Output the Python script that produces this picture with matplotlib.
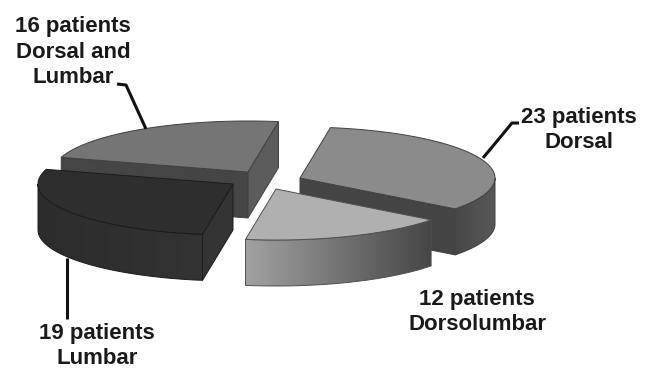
#draws an exploded 3d style pie of patient counts by site
import numpy as np
import matplotlib
matplotlib.use('Agg')
import matplotlib.pyplot as plt
from matplotlib.colors import to_rgb
from matplotlib.patches import Polygon

plt.rcParams['font.family'] = ['Liberation Sans', 'DejaVu Sans']

# patient counts, going clockwise from the back of the pie
sites = ["Dorsal", "Dorsolumbar", "Lumbar", "Dorsal and\nLumbar"]
patients = [23, 12, 19, 16]

# where each slice tip sits once pulled out of the pie
tips = [(300, 178), (276, 189), (233, 184), (248, 172)]
top_colors = ['#8b8b8b', '#b0b0b0', '#2e2e2e', '#757575']
edge_colors = ['#404040', '#505050', '#1c1c1c', '#404040']
# flat cut faces on the first and last edge of a slice, None when turned away
first_cut = [None, None, '#343434', '#454545']
last_cut = ['#444444', None, None, '#5c5c5c']
wall_left = ['#484848', '#a2a2a2', '#2c2c2c', None]
wall_right = ['#585858', '#464646', '#333333', None]
# drawing order, back slice first
layers = [2, 4, 3, 1]

label_pos = [(579, 130), (477, 312), (97, 346), (73, 52)]
leaders = [[(483, 158), (512, 123), (519, 123)], None,
           [(66.5, 258), (66.5, 319)], [(146, 129), (126, 85), (117, 84)]]

rx, ry = 195, 51
depth = 46
start_angle = 81

fig = plt.figure(figsize=(6.5, 3.68), dpi=100)
ax = fig.add_axes([0, 0, 1, 1])


def rim(tip, t):
    # point on the pie edge for an angle in degrees
    r = np.radians(t)
    return tip[0] + rx * np.cos(r), tip[1] - ry * np.sin(r)


def cut_face(tip, p, color, edge, z):
    ax.fill([tip[0], p[0], p[0], tip[0]],
            [tip[1], p[1], p[1] + depth, tip[1] + depth],
            fc=color, ec=edge, lw=0.7, zorder=z)


def outer_wall(tip, lo, hi, c1, c2, edge, z):
    # curved wall, shaded left to right with a clipped gradient
    ts = np.linspace(lo, hi, 80)
    pts = np.array([rim(tip, t) for t in ts])
    if pts[0, 0] > pts[-1, 0]:
        pts = pts[::-1]
    lower = pts + [0, depth]
    outline = np.vstack([pts, lower[::-1]])
    ramp = np.linspace(0, 1, 256)[None, :, None]
    grad = np.array(to_rgb(c1))[None, None, :] * (1 - ramp) + np.array(to_rgb(c2))[None, None, :] * ramp
    extent = [pts[:, 0].min(), pts[:, 0].max(), outline[:, 1].max(), outline[:, 1].min()]
    im = ax.imshow(grad, extent=extent, aspect='auto', zorder=z)
    im.set_clip_path(Polygon(outline, transform=ax.transData))
    ax.add_patch(Polygon(outline, fc='none', ec=edge, lw=0.7, zorder=z + 0.1))


def draw_slice(i, t1, t2):
    tip = tips[i]
    z = layers[i]
    edge = edge_colors[i]
    if first_cut[i]:
        cut_face(tip, rim(tip, t1), first_cut[i], edge, z)
    if last_cut[i]:
        cut_face(tip, rim(tip, t2), last_cut[i], edge, z)
    # only the lower half of the ellipse shows its wall
    lo, hi = max(t2, -180), min(t1, 0)
    if wall_left[i] and lo < hi:
        outer_wall(tip, lo, hi, wall_left[i], wall_right[i], edge, z)
    # top face
    ts = np.linspace(t2, t1, 90)
    xs = [tip[0]] + [rim(tip, t)[0] for t in ts]
    ys = [tip[1]] + [rim(tip, t)[1] for t in ts]
    ax.fill(xs, ys, fc=top_colors[i], ec=edge, lw=0.7, zorder=z + 0.5)


shares = np.array(patients) / sum(patients) * 360
angle = start_angle
for i, share in enumerate(shares):
    draw_slice(i, angle, angle - share)
    angle -= share

for leader in leaders:
    if leader:
        xs, ys = zip(*leader)
        ax.plot(xs, ys, color='#111111', lw=2.2, zorder=6, solid_capstyle='butt')

for i, pos in enumerate(label_pos):
    ax.text(pos[0], pos[1], f"{patients[i]} patients\n{sites[i]}", ha='center', va='center',
            fontsize=16, fontweight='bold', color='#1a1a1a', linespacing=1.3, zorder=7)

ax.set_xlim(0, 650)
ax.set_ylim(368, 0)
ax.axis('off')
fig.savefig('out.png', dpi=100, facecolor='white')
